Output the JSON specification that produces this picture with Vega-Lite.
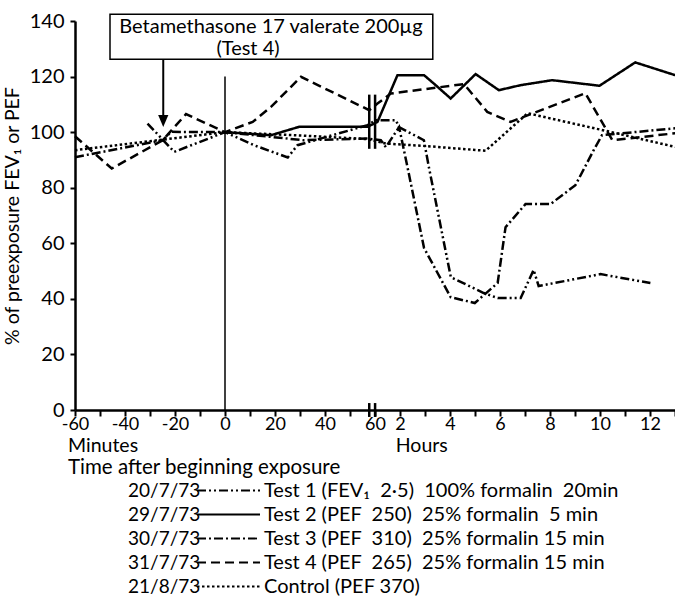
{
  "$schema": "https://vega.github.io/schema/vega-lite/v6.json",
  "background": "white",
  "padding": {"left": 2, "top": 11, "right": 0, "bottom": 0},
  "config": {
    "font": "Lato",
    "view": {"stroke": null},
    "axis": {"domainColor": "black", "tickColor": "black", "labelColor": "black", "titleColor": "black", "grid": false, "labelFont": "Lato", "titleFont": "Lato", "titleFontWeight": "normal"},
    "text": {"font": "Lato", "color": "black"}
  },
  "datasets": {
    "pts": [
      {"s": "Test 1", "t": -31, "v": 103.1}, {"s": "Test 1", "t": -20.3, "v": 92.9}, {"s": "Test 1", "t": 0, "v": 100}, {"s": "Test 1", "t": 11.6, "v": 95.3}, {"s": "Test 1", "t": 25.1, "v": 90.9}, {"s": "Test 1", "t": 29, "v": 95.3}, {"s": "Test 1", "t": 57, "v": 102.5}, {"s": "Test 1", "t": 62.4, "v": 104.3}, {"s": "Test 1", "t": 110.4, "v": 104.3}, {"s": "Test 1", "t": 117.6, "v": 101.8}, {"s": "Test 1", "t": 177.6, "v": 97.1}, {"s": "Test 1", "t": 189.6, "v": 87.4}, {"s": "Test 1", "t": 242.4, "v": 47.8}, {"s": "Test 1", "t": 321.6, "v": 42.1}, {"s": "Test 1", "t": 355.2, "v": 40.3}, {"s": "Test 1", "t": 410.4, "v": 40.3}, {"s": "Test 1", "t": 441.6, "v": 50.4}, {"s": "Test 1", "t": 453.6, "v": 44.6}, {"s": "Test 1", "t": 602.4, "v": 48.9}, {"s": "Test 1", "t": 722.4, "v": 45.7},
      {"s": "Test 2", "t": 0, "v": 100}, {"s": "Test 2", "t": 18.4, "v": 98.9}, {"s": "Test 2", "t": 29.6, "v": 101.9}, {"s": "Test 2", "t": 57, "v": 101.9}, {"s": "Test 2", "t": 66, "v": 103.7}, {"s": "Test 2", "t": 114, "v": 120.5}, {"s": "Test 2", "t": 178, "v": 120.5}, {"s": "Test 2", "t": 206, "v": 116.9}, {"s": "Test 2", "t": 242, "v": 112.1}, {"s": "Test 2", "t": 302, "v": 120.9}, {"s": "Test 2", "t": 358, "v": 115.1}, {"s": "Test 2", "t": 410, "v": 116.9}, {"s": "Test 2", "t": 486, "v": 118.7}, {"s": "Test 2", "t": 600, "v": 116.7}, {"s": "Test 2", "t": 686, "v": 125.1}, {"s": "Test 2", "t": 782, "v": 120.5},
      {"s": "Test 3", "t": -60, "v": 91}, {"s": "Test 3", "t": -24.9, "v": 97.1}, {"s": "Test 3", "t": -21.6, "v": 100.1}, {"s": "Test 3", "t": 0, "v": 100}, {"s": "Test 3", "t": 31.3, "v": 97.1}, {"s": "Test 3", "t": 56.7, "v": 97.7}, {"s": "Test 3", "t": 74, "v": 97.1}, {"s": "Test 3", "t": 86, "v": 94.6}, {"s": "Test 3", "t": 118, "v": 101.8}, {"s": "Test 3", "t": 138, "v": 87.5}, {"s": "Test 3", "t": 178, "v": 58.3}, {"s": "Test 3", "t": 242, "v": 40.6}, {"s": "Test 3", "t": 300, "v": 38.5}, {"s": "Test 3", "t": 355, "v": 45.7}, {"s": "Test 3", "t": 374, "v": 65.8}, {"s": "Test 3", "t": 422, "v": 74.1}, {"s": "Test 3", "t": 482, "v": 74.1}, {"s": "Test 3", "t": 542, "v": 80.9}, {"s": "Test 3", "t": 586, "v": 93.5}, {"s": "Test 3", "t": 606, "v": 98.9}, {"s": "Test 3", "t": 782, "v": 101.4},
      {"s": "Test 4", "t": -60, "v": 98.5}, {"s": "Test 4", "t": -45.3, "v": 86.9}, {"s": "Test 4", "t": -24.9, "v": 97.1}, {"s": "Test 4", "t": -15.6, "v": 106.5}, {"s": "Test 4", "t": 0, "v": 100}, {"s": "Test 4", "t": 11.1, "v": 103.7}, {"s": "Test 4", "t": 18.4, "v": 109.1}, {"s": "Test 4", "t": 30.4, "v": 119.9}, {"s": "Test 4", "t": 57.7, "v": 107.9}, {"s": "Test 4", "t": 66, "v": 110.3}, {"s": "Test 4", "t": 98, "v": 113.9}, {"s": "Test 4", "t": 274, "v": 117.3}, {"s": "Test 4", "t": 330, "v": 107.3}, {"s": "Test 4", "t": 386, "v": 103.7}, {"s": "Test 4", "t": 566, "v": 114}, {"s": "Test 4", "t": 631, "v": 97.1}, {"s": "Test 4", "t": 782, "v": 99.6},
      {"s": "Control", "t": -60, "v": 93.5}, {"s": "Control", "t": 0, "v": 100}, {"s": "Control", "t": 30, "v": 98.8}, {"s": "Control", "t": 57, "v": 97.5}, {"s": "Control", "t": 86, "v": 95.9}, {"s": "Control", "t": 182, "v": 95}, {"s": "Control", "t": 326, "v": 93.3}, {"s": "Control", "t": 427, "v": 106.8}, {"s": "Control", "t": 626, "v": 100.1}, {"s": "Control", "t": 782, "v": 94.7}
    ],
    "legend": [
      {"series": "Test 1", "date": "20/7/73", "desc": "Test 1 (FEV₁\u00a0 2·5)\u00a0 100% formalin\u00a0 20min"},
      {"series": "Test 2", "date": "29/7/73", "desc": "Test 2 (PEF\u00a0 250)\u00a0 25% formalin\u00a0 5 min"},
      {"series": "Test 3", "date": "30/7/73", "desc": "Test 3 (PEF\u00a0 310)\u00a0 25% formalin 15 min"},
      {"series": "Test 4", "date": "31/7/73", "desc": "Test 4 (PEF\u00a0 265)\u00a0 25% formalin 15 min"},
      {"series": "Control", "date": "21/8/73", "desc": "Control (PEF 370)"}
    ]
  },
  "bounds": "flush",
  "spacing": 24.5,
  "vconcat": [
    {
      "width": 601,
      "height": 389,
      "resolve": {"scale": {"x": "independent"}},
      "layer": [
        {
          "layer": [
            {
              "data": {"name": "pts"},
              "mark": {"type": "line", "color": "black", "strokeWidth": 2.5},
              "encoding": {
                "x": {"field": "t", "type": "quantitative",
                  "scale": {"domain": [-60, 60, 784], "range": [0, 300, 601], "nice": false, "zero": false},
                  "axis": {"title": null, "values": [-60, -50, -40, -30, -20, -10, 0, 10, 20, 30, 40, 50, 60],
                    "labelExpr": "datum.value % 20 == 0 ? '' + datum.value : ''",
                    "domainWidth": 2.5, "tickWidth": 2, "tickSize": 6, "labelFontSize": 18, "labelPadding": -1, "labelOverlap": false, "labelFlush": false, "labelBound": false}},
                "y": {"field": "v", "type": "quantitative",
                  "scale": {"domain": [0, 140], "nice": false},
                  "axis": {"title": "% of preexposure FEV₁ or PEF", "values": [0, 10, 20, 30, 40, 50, 60, 70, 80, 90, 100, 110, 120, 130, 140],
                    "labelExpr": "datum.value % 20 == 0 ? '' + datum.value : ''",
                    "domainWidth": 2.5, "tickWidth": 2, "tickSize": 5, "labelFontSize": 20, "labelPadding": 6, "titleFontSize": 19.5, "titlePadding": 7, "labelOverlap": false}},
                "strokeDash": {"field": "s", "type": "nominal",
                  "scale": {"domain": ["Test 1", "Test 2", "Test 3", "Test 4", "Control"], "range": [[9, 3, 2, 3, 2, 3], [1, 0], [9, 3, 2, 3], [9, 5], [2.5, 2.5]]},
                  "legend": null}
              }
            },
            {
              "data": {"values": [{}]},
              "mark": {"type": "rule", "color": "black", "strokeWidth": 1.5},
              "encoding": {"x": {"datum": 0}, "y": {"datum": 0}, "y2": {"datum": 120}}
            },
            {
              "data": {"values": [{}]},
              "mark": {"type": "rule", "color": "black", "strokeWidth": 2.5},
              "encoding": {"x": {"datum": 57.7}, "y": {"datum": 94}, "y2": {"datum": 113.5}}
            },
            {
              "data": {"values": [{}]},
              "mark": {"type": "rule", "color": "black", "strokeWidth": 2.5},
              "encoding": {"x": {"datum": 60.2}, "y": {"datum": 94}, "y2": {"datum": 113.5}}
            },
            {
              "data": {"values": [{}]},
              "mark": {"type": "rule", "color": "black", "strokeWidth": 2.5},
              "encoding": {"x": {"datum": 57.7}, "y": {"datum": -2.5}, "y2": {"datum": 2.5}}
            },
            {
              "data": {"values": [{}]},
              "mark": {"type": "rule", "color": "black", "strokeWidth": 2.5},
              "encoding": {"x": {"datum": 60.2}, "y": {"datum": -2.5}, "y2": {"datum": 2.5}}
            },
            {
              "data": {"values": [{}]},
              "mark": {"type": "rect", "fill": "white", "stroke": "black", "strokeWidth": 1.5},
              "encoding": {"x": {"datum": -46}, "x2": {"datum": 199}, "y": {"datum": 142.4}, "y2": {"datum": 126.2}}
            },
            {
              "data": {"values": [{}]},
              "mark": {"type": "text", "fontSize": 20, "align": "center", "baseline": "middle"},
              "encoding": {"x": {"datum": 18.4}, "y": {"datum": 138}, "text": {"value": "Betamethasone 17 valerate 200µg"}}
            },
            {
              "data": {"values": [{}]},
              "mark": {"type": "text", "fontSize": 20, "align": "center", "baseline": "middle"},
              "encoding": {"x": {"datum": 9.2}, "y": {"datum": 130.1}, "text": {"value": "(Test 4)"}}
            },
            {
              "data": {"values": [{}]},
              "mark": {"type": "rule", "color": "black", "strokeWidth": 2},
              "encoding": {"x": {"datum": -24.7}, "y": {"datum": 126.2}, "y2": {"datum": 106}}
            },
            {
              "data": {"values": [{}]},
              "mark": {"type": "point", "shape": "M-0.85,-1L0.85,-1L0,1Z", "filled": true, "color": "black", "opacity": 1, "size": 144},
              "encoding": {"x": {"datum": -24.7}, "y": {"datum": 104}}
            }
          ]
        },
        {
          "data": {"values": [{}]},
          "mark": {"type": "rule", "opacity": 0},
          "encoding": {
            "x": {"datum": 2, "type": "quantitative",
              "scale": {"domain": [1, 13.04], "range": [300, 601], "nice": false, "zero": false},
              "axis": {"orient": "bottom", "title": null, "domain": false, "values": [2, 3, 4, 5, 6, 7, 8, 9, 10, 11, 12, 13],
                "labelExpr": "datum.value % 2 == 0 ? '' + datum.value : ''",
                "tickWidth": 2, "tickSize": 6, "labelFontSize": 18, "labelPadding": -1, "labelOverlap": false, "labelFlush": false, "labelBound": false}}
          }
        }
      ]
    },
    {
      "bounds": "flush",
      "spacing": 0,
      "vconcat": [
        {
          "width": 601,
          "height": 44,
          "data": {"values": [{}]},
          "layer": [
            {
              "mark": {"type": "text", "fontSize": 19.5, "align": "left", "baseline": "middle"},
              "encoding": {
                "x": {"datum": -62.8, "type": "quantitative", "scale": {"domain": [-60, 60, 784], "range": [0, 300, 601], "nice": false, "zero": false}, "axis": null},
                "y": {"datum": "units", "type": "nominal", "scale": {"domain": ["units", "title"]}, "axis": null},
                "text": {"value": "Minutes"}
              }
            },
            {
              "mark": {"type": "text", "fontSize": 19.5, "align": "left", "baseline": "middle"},
              "encoding": {
                "x": {"datum": 110, "type": "quantitative"},
                "y": {"datum": "units", "type": "nominal"},
                "text": {"value": "Hours"}
              }
            },
            {
              "mark": {"type": "text", "fontSize": 20.5, "align": "left", "baseline": "middle"},
              "encoding": {
                "x": {"datum": -62.8, "type": "quantitative"},
                "y": {"datum": "title", "type": "nominal"},
                "text": {"value": "Time after beginning exposure"}
              }
            }
          ]
        },
        {
          "width": 601,
          "height": 120,
          "data": {"name": "legend"},
          "encoding": {"y": {"field": "series", "type": "nominal", "sort": null, "axis": null}},
          "layer": [
            {
              "mark": {"type": "text", "fontSize": 19, "align": "left", "baseline": "middle"},
              "encoding": {
                "x": {"datum": -38.8, "type": "quantitative", "scale": {"domain": [-60, 60, 784], "range": [0, 300, 601], "nice": false, "zero": false}, "axis": null},
                "text": {"field": "date"}
              }
            },
            {
              "mark": {"type": "rule", "color": "black", "strokeWidth": 1.8},
              "encoding": {
                "x": {"datum": -11.2, "type": "quantitative"},
                "x2": {"datum": 14},
                "strokeDash": {"field": "series", "type": "nominal",
                  "scale": {"domain": ["Test 1", "Test 2", "Test 3", "Test 4", "Control"], "range": [[9, 3, 2, 3, 2, 3], [1, 0], [9, 3, 2, 3], [5, 3], [2, 2]]},
                  "legend": null}
              }
            },
            {
              "mark": {"type": "text", "fontSize": 20, "align": "left", "baseline": "middle"},
              "encoding": {
                "x": {"datum": 15.6, "type": "quantitative"},
                "text": {"field": "desc"}
              }
            }
          ]
        }
      ]
    }
  ]
}
